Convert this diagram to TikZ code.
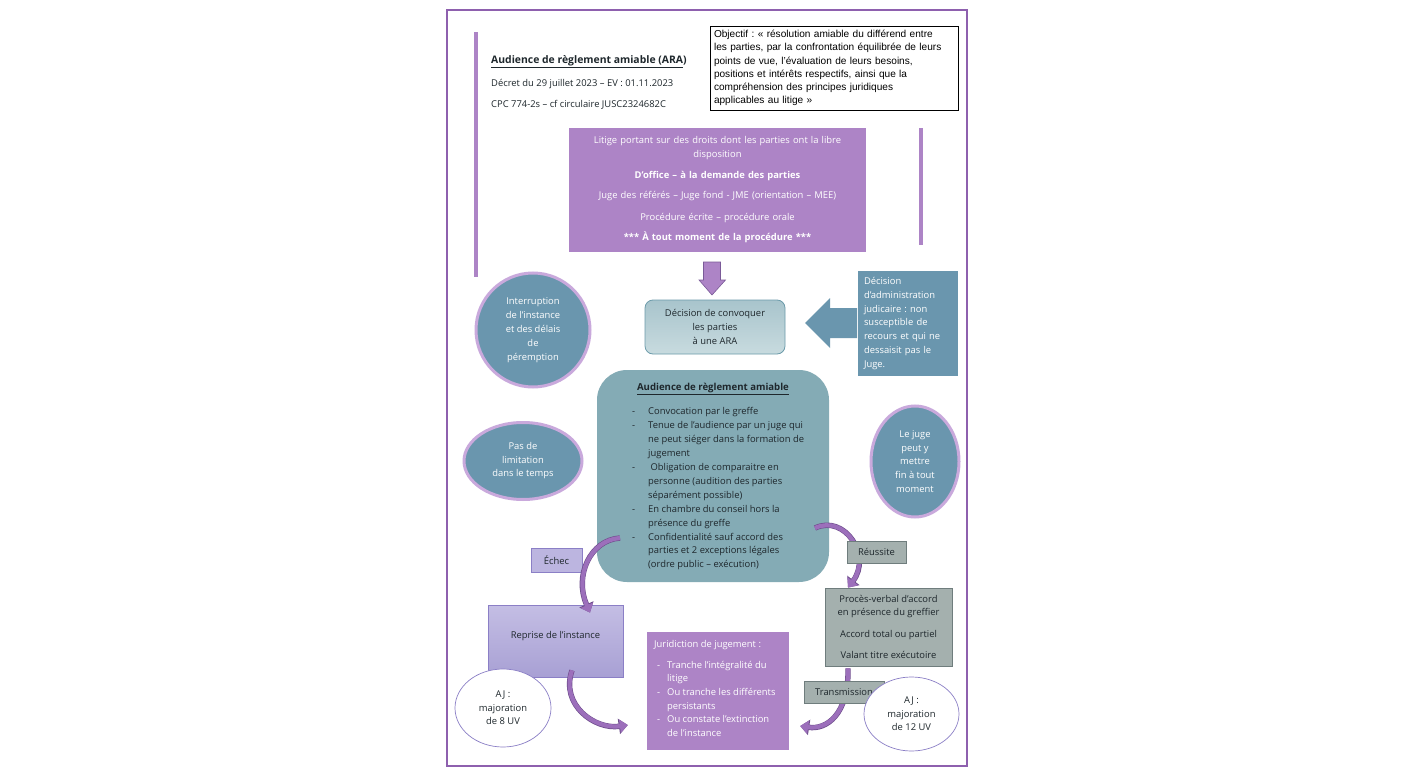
\documentclass[tikz,border=0pt]{standalone}
\usepackage{fontspec}
\setmainfont{Open Sans}
\newfontfamily\arialfont{Liberation Sans}
\usetikzlibrary{arrows.meta,shapes.geometric}
\definecolor{cadre}{HTML}{8E60AE}
\definecolor{mauve}{HTML}{AD84C6}
\definecolor{mauvefonce}{HTML}{7A5A98}
\definecolor{acier}{HTML}{6A96AE}
\definecolor{bleugris}{HTML}{84ABB5}
\definecolor{bleuhaut}{HTML}{A8C4CC}
\definecolor{bleubas}{HTML}{C8DBDF}
\definecolor{bleubord}{HTML}{6C9BAA}
\definecolor{lilas}{HTML}{C9A9DC}
\definecolor{lavande}{HTML}{BCB5E0}
\definecolor{lavhaut}{HTML}{C4BEE4}
\definecolor{lavbas}{HTML}{A8A0D4}
\definecolor{lavbord}{HTML}{8B7FC6}
\definecolor{gris}{HTML}{A4B0AE}
\definecolor{grisbord}{HTML}{6F7D7D}
\definecolor{flechec}{HTML}{9C6FBB}
\definecolor{flechebord}{HTML}{6E4D8C}
\definecolor{texte}{HTML}{1E272C}
\tikzset{
  petit/.style={font=\fontsize{9.4}{13.6}\selectfont},
  mauvebox/.style={petit, fill=mauve, text=white, inner sep=0pt},
  bluecirc/.style={petit, ellipse, fill=acier, draw=lilas, line width=3pt, text=white, align=center, inner sep=0pt},
  greybox/.style={petit, fill=gris, draw=grisbord, line width=0.8pt, text=texte, align=center, inner sep=0pt},
  ajellipse/.style={petit, ellipse, fill=white, draw=lavbord, line width=0.7pt, text=texte, align=center, inner sep=0pt},
  curvearrow/.style={flechec, line width=4.2pt, -{Triangle[width=13pt,length=8pt]},
    preaction={draw=flechebord, line width=5.4pt, -{Triangle[width=15pt,length=9pt]}}},
}
\begin{document}
\frenchspacing
\begin{tikzpicture}[x=1pt,y=-1pt]
\useasboundingbox (0,0) rectangle (1416,778);
\fill[white] (0,0) rectangle (1416,778);
% cadre de la page
\draw[cadre, line width=2pt] (447,10) rectangle (967,766);
\fill[mauve] (474,32) rectangle (478,277);
\fill[mauve] (919,128) rectangle (923,245);

% en-tete
\node[anchor=west, font=\fontsize{10.4}{11}\selectfont\bfseries, text=texte, inner sep=0pt] (titre) at (491,62) {\underline{Audience de règlement amiable (ARA})};
\node[petit, anchor=west, text=texte, inner sep=0pt] (decret) at (491,84) {Décret du 29 juillet 2023 – EV : 01.11.2023};
\node[petit, anchor=west, text=texte, inner sep=0pt] (cpc) at (491,105) {CPC 774-2s – cf circulaire JUSC2324682C};
\node[draw=black, line width=0.8pt, minimum width=248pt, minimum height=84pt, text width=240pt, align=left, inner xsep=4pt,
  font=\arialfont\fontsize{10.1}{13.2}\selectfont] (objectif) at (834,68)
  {Objectif : « résolution amiable du différend entre\\les parties, par la confrontation équilibrée de leurs\\points de vue, l’évaluation de leurs besoins,\\positions et intérêts respectifs, ainsi que la\\compréhension des principes juridiques\\applicables au litige »};

\node[mauvebox, minimum width=297pt, minimum height=124pt, text width=290pt, align=center] (litige) at (717.5,190)
  {Litige portant sur des droits dont les parties ont la libre\\disposition\\[7pt]\textbf{D’office – à la demande des parties}\\[7pt]Juge des référés – Juge fond - JME (orientation – MEE)\\[8pt]Procédure écrite – procédure orale\\[7pt]\textbf{*** À tout moment de la procédure ***}};

% fleche vers le bas
\draw[fill=mauve, draw=mauvefonce, line width=0.6pt] (703.5,262) -- (720.5,262) -- (720.5,280) -- (725.5,280) -- (712,295) -- (699,280) -- (703.5,280) -- cycle;

\node[petit, draw=bleubord, line width=0.8pt, rounded corners=8pt, top color=bleuhaut, bottom color=bleubas, text=texte, align=center,
  minimum width=140pt, minimum height=54pt, inner sep=0pt] (convoquer) at (715,327)
  {Décision de convoquer\\les parties\\à une ARA};

% fleche vers la gauche
\fill[acier] (857,308) -- (830,308) -- (830,298) -- (805,323) -- (830,348) -- (830,338) -- (857,338) -- cycle;
\node[mauvebox, fill=acier, minimum width=100pt, minimum height=105pt, text width=88pt, align=left,
  font=\fontsize{9.4}{13.8}\selectfont] (admin) at (908,323.5)
  {Décision\\d’administration\\judicaire : non\\susceptible de\\recours et qui ne\\dessaisit pas le\\Juge.};

\node[bluecirc, minimum width=114pt, minimum height=114pt, font=\fontsize{9.4}{14}\selectfont] (interruption) at (533,330)
  {Interruption\\de l’instance\\et des délais\\de\\péremption};
\node[bluecirc, minimum width=118pt, minimum height=77pt, font=\fontsize{9.4}{13.5}\selectfont] (pas) at (523,461)
  {Pas de\\limitation\\dans le temps};
\node[bluecirc, minimum width=88pt, minimum height=111pt, font=\fontsize{9.4}{13.7}\selectfont] (juge) at (915,461.5)
  {Le juge\\peut y\\mettre\\fin à tout\\moment};

% audience
\node[fill=bleugris, rounded corners=30pt, minimum width=232pt, minimum height=212pt] (ara) at (713,476) {};
\node[font=\fontsize{9.6}{11}\selectfont\bfseries, text=texte, inner sep=0pt] (aratitre) at (713,389) {\underline{Audience de règlement amiable}};
\node[font=\fontsize{9.4}{13.9}\selectfont, text=texte, anchor=north west, inner sep=0pt] (araliste) at (632,405)
  {\begin{tabular}{@{}p{16pt}@{}l@{}}
   - & Convocation par le greffe\\
   - & Tenue de l’audience par un juge qui\\
     & ne peut siéger dans la formation de\\
     & jugement\\
   - & \ Obligation de comparaitre en\\
     & personne (audition des parties\\
     & séparément possible)\\
   - & En chambre du conseil hors la\\
     & présence du greffe\\
   - & Confidentialité sauf accord des\\
     & parties et 2 exceptions légales\\
     & (ordre public – exécution)
   \end{tabular}};

% issues
\node[top color=lavhaut, bottom color=lavbas, draw=lavbord, line width=0.8pt,
  minimum width=135pt, minimum height=72pt] (reprise) at (555.5,641) {};
\node[petit, text=texte, inner sep=0pt] (reprisetxt) at (555.5,636) {Reprise de l’instance};
\node[greybox, minimum width=127pt, minimum height=78pt] (pv) at (888.5,627)
  {Procès-verbal d’accord\\en présence du greffier\\[8pt]Accord total ou partiel\\[8pt]Valant titre exécutoire};
\node[mauvebox, minimum width=142pt, minimum height=118pt] (juridiction) at (718,691) {};
\node[font=\fontsize{9.4}{13.6}\selectfont, text=white, anchor=north west, inner sep=0pt] (juridictiontxt) at (654,638)
  {\begin{tabular}{@{}l@{}}
   Juridiction de jugement :\\[7pt]
   \begin{tabular}{@{\hspace{3pt}}p{10pt}@{}l@{}}
   - & Tranche l’intégralité du\\
     & litige\\
   - & Ou tranche les différents\\
     & persistants\\
   - & Ou constate l’extinction\\
     & de l’instance
   \end{tabular}
   \end{tabular}};
\node[petit, fill=lavande, draw=lavbord, line width=0.8pt, text=texte, minimum width=51pt, minimum height=24pt,
  inner sep=0pt] (echec) at (556.5,560) {Échec};
\node[ajellipse, minimum width=96pt, minimum height=78pt, font=\fontsize{9.4}{13.5}\selectfont] (aj8) at (503,708)
  {AJ :\\majoration\\de 8 UV};

% fleches courbes
\coordinate (echecS) at (620,538);
\draw[curvearrow] (echecS) .. controls (590,540) and (574,576) .. ([xshift=34.5pt,yshift=-8pt]reprise.north);
\draw[curvearrow] ([xshift=16.5pt,yshift=7pt]reprise.south) .. controls (560,705) and (595,730) .. ([xshift=-19pt,yshift=-34pt]juridiction.west);
\coordinate (reussiteS) at (815,528);
\draw[curvearrow] (reussiteS) .. controls (845,514) and (872,556) .. ([xshift=-40.5pt]pv.north);
\node[greybox, minimum width=59pt, minimum height=22pt] (reussite) at (876.5,552) {Réussite};
\draw[curvearrow] ([xshift=-40.5pt,yshift=-2pt]pv.south) .. controls (849,715) and (826,730) .. ([xshift=11pt,yshift=-35pt]juridiction.east);
\node[greybox, minimum width=80pt, minimum height=22pt] (transmission) at (844,692) {Transmission};
\node[ajellipse, minimum width=95pt, minimum height=74pt, font=\fontsize{9.4}{13.5}\selectfont] (aj12) at (911.5,714)
  {AJ :\\majoration\\de 12 UV};
\end{tikzpicture}
\end{document}
